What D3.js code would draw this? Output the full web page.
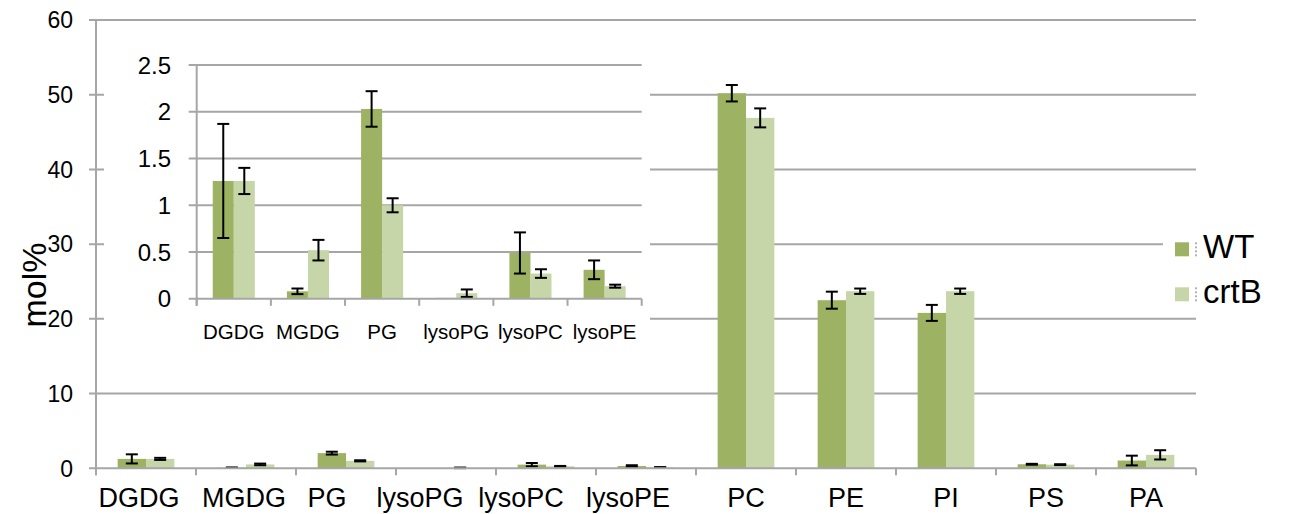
<!DOCTYPE html>
<html>
<head>
<meta charset="utf-8">
<script src="https://cdn.jsdelivr.net/npm/d3@7"></script>
<style>
  body { margin: 0; background: #fff; }
  text { font-family: "Liberation Sans", Arial, sans-serif; fill: #000; }
</style>
</head>
<body>
<svg id="chart" width="1296" height="514"></svg>
<script>
// Lipid classes (mol%), wild type vs crtB line
const categories = ["DGDG", "MGDG", "PG", "lysoPG", "lysoPC", "lysoPE", "PC", "PE", "PI", "PS", "PA"];
const insetCategories = ["DGDG", "MGDG", "PG", "lysoPG", "lysoPC", "lysoPE"];
const seriesNames = ["WT", "crtB"];
const wtValues   = [1.26, 0.08, 2.03, 0.01, 0.49, 0.31, 50.2, 22.5, 20.8, 0.54, 1.04];
const wtErrors   = [0.61, 0.03, 0.19, 0.00, 0.22, 0.10, 1.10, 1.14, 1.07, 0.06, 0.65];
const crtbValues = [1.26, 0.52, 1.00, 0.06, 0.27, 0.135, 46.9, 23.7, 23.7, 0.49, 1.80];
const crtbErrors = [0.14, 0.11, 0.075, 0.04, 0.046, 0.016, 1.27, 0.36, 0.36, 0.06, 0.62];
const mainTicks  = [0, 10, 20, 30, 40, 50, 60];
const insetTicks = [0, 0.5, 1, 1.5, 2, 2.5];

// horizontal nudges for the hand-placed labels of the small lipid classes
const mainLabelNudge = [-7, -2, -19, -26, -25, -18, 0, 0, 0, 0, 0];

const colors = { WT: "#9db262", crtB: "#c6d6a8" };
const gridColor = "#a6a6a6";

const rows = categories.map((c, i) => ({
  cat: c,
  vals: [
    { s: "WT", v: wtValues[i], e: wtErrors[i] },
    { s: "crtB", v: crtbValues[i], e: crtbErrors[i] }
  ]
}));

const svg = d3.select("#chart");

// ---------- main chart ----------
const M = { left: 96, right: 1196, top: 20, bottom: 468.3 };
const x = d3.scaleBand().domain(categories).range([M.left, M.right])
  .paddingInner(0.433).paddingOuter(0.2165);
const xs = d3.scaleBand().domain(seriesNames).range([0, x.bandwidth()]);
const y = d3.scaleLinear().domain([0, 60]).range([M.bottom, M.top]);

// gridlines (extending left past the axis as cross ticks)
svg.append("g").selectAll("line").data(mainTicks.filter(t => t > 0)).join("line")
  .attr("x1", M.left - 7).attr("x2", M.right)
  .attr("y1", d => y(d)).attr("y2", d => y(d))
  .attr("stroke", gridColor).attr("stroke-width", 2);

function drawBars(g, data, xScale, subScale, yScale, capW) {
  const grp = g.append("g").selectAll("g").data(data).join("g")
    .attr("transform", d => `translate(${xScale(d.cat)},0)`);
  grp.selectAll("rect").data(d => d.vals).join("rect")
    .attr("x", d => subScale(d.s)).attr("width", subScale.bandwidth())
    .attr("y", d => yScale(d.v)).attr("height", d => yScale(0) - yScale(d.v))
    .attr("fill", d => colors[d.s]);
  const eb = grp.selectAll("g.err").data(d => d.vals.filter(v => v.e > 0)).join("g")
    .attr("class", "err")
    .attr("stroke", "#000").attr("stroke-width", 2);
  const cx = d => subScale(d.s) + subScale.bandwidth() / 2;
  eb.append("line").attr("x1", cx).attr("x2", cx)
    .attr("y1", d => yScale(d.v + d.e)).attr("y2", d => yScale(Math.max(0, d.v - d.e)));
  eb.append("line").attr("x1", d => cx(d) - capW / 2).attr("x2", d => cx(d) + capW / 2)
    .attr("y1", d => yScale(d.v + d.e)).attr("y2", d => yScale(d.v + d.e));
  eb.append("line").attr("x1", d => cx(d) - capW / 2).attr("x2", d => cx(d) + capW / 2)
    .attr("y1", d => yScale(Math.max(0, d.v - d.e))).attr("y2", d => yScale(Math.max(0, d.v - d.e)));
}

drawBars(svg, rows, x, xs, y, 12);

// y axis
svg.append("line").attr("x1", M.left).attr("x2", M.left)
  .attr("y1", M.top).attr("y2", M.bottom + 7)
  .attr("stroke", gridColor).attr("stroke-width", 2);
// x axis with category boundary ticks
svg.append("line").attr("x1", M.left - 7).attr("x2", M.right)
  .attr("y1", M.bottom).attr("y2", M.bottom)
  .attr("stroke", gridColor).attr("stroke-width", 2);
const bounds = d3.range(categories.length + 1).map(i => M.left + i * x.step());
svg.append("g").selectAll("line").data(bounds).join("line")
  .attr("x1", d => d).attr("x2", d => d)
  .attr("y1", M.bottom).attr("y2", M.bottom + 7)
  .attr("stroke", gridColor).attr("stroke-width", 2);

svg.append("g").selectAll("text").data(mainTicks).join("text")
  .attr("x", 73).attr("y", d => y(d)).attr("dy", "0.36em")
  .attr("text-anchor", "end").attr("font-size", 23)
  .text(d => d);

svg.append("g").selectAll("text").data(categories).join("text")
  .attr("x", (d, i) => x(d) + x.bandwidth() / 2 + mainLabelNudge[i])
  .attr("y", 507).attr("text-anchor", "middle").attr("font-size", 27)
  .text(d => d);

svg.append("text")
  .attr("transform", "translate(46,285) rotate(-90)")
  .attr("text-anchor", "middle").attr("font-size", 34)
  .text("mol%");

// ---------- inset (minor lipid classes) ----------
svg.append("rect").attr("x", 104).attr("y", 28).attr("width", 546).attr("height", 327)
  .attr("fill", "#fff");

const I = { left: 196.7, right: 641.7, top: 65, bottom: 298.8 };
const ix = d3.scaleBand().domain(insetCategories).range([I.left, I.right])
  .paddingInner(0.433).paddingOuter(0.2165);
const ixs = d3.scaleBand().domain(seriesNames).range([0, ix.bandwidth()]);
const iy = d3.scaleLinear().domain([0, 2.5]).range([I.bottom, I.top]);

svg.append("g").selectAll("line").data(insetTicks.filter(t => t > 0)).join("line")
  .attr("x1", I.left - 8).attr("x2", I.right)
  .attr("y1", d => iy(d)).attr("y2", d => iy(d))
  .attr("stroke", gridColor).attr("stroke-width", 2);

drawBars(svg, rows.filter(r => insetCategories.includes(r.cat)), ix, ixs, iy, 12);

svg.append("line").attr("x1", I.left).attr("x2", I.left)
  .attr("y1", I.top).attr("y2", I.bottom + 7)
  .attr("stroke", gridColor).attr("stroke-width", 2);
svg.append("line").attr("x1", I.left - 8).attr("x2", I.right)
  .attr("y1", I.bottom).attr("y2", I.bottom)
  .attr("stroke", gridColor).attr("stroke-width", 2);
const ibounds = d3.range(insetCategories.length + 1).map(i => I.left + i * ix.step());
svg.append("g").selectAll("line").data(ibounds).join("line")
  .attr("x1", d => d).attr("x2", d => d)
  .attr("y1", I.bottom).attr("y2", I.bottom + 7)
  .attr("stroke", gridColor).attr("stroke-width", 2);

svg.append("g").selectAll("text").data(insetTicks).join("text")
  .attr("x", 171).attr("y", d => iy(d)).attr("dy", "0.36em")
  .attr("text-anchor", "end").attr("font-size", 24)
  .text(d => d);

svg.append("g").selectAll("text").data(insetCategories).join("text")
  .attr("x", d => ix(d) + ix.bandwidth() / 2)
  .attr("y", 339.3).attr("text-anchor", "middle").attr("font-size", 20.5)
  .text(d => d);

// ---------- legend ----------
svg.append("rect").attr("x", 1163).attr("y", 228).attr("width", 133).attr("height", 84)
  .attr("fill", "#fff");
const legend = svg.append("g").selectAll("g").data(seriesNames).join("g")
  .attr("transform", (d, i) => `translate(1175,${242.3 + i * 45})`);
legend.append("rect").attr("width", 14).attr("height", 14).attr("fill", d => colors[d]);
legend.append("line").attr("x1", 21).attr("x2", 21).attr("y1", 0).attr("y2", 14)
  .attr("stroke", "#666").attr("stroke-width", 1).attr("stroke-dasharray", "2,2");
legend.append("text").attr("x", 28).attr("y", 16).attr("font-size", 33).text(d => d);
</script>
</body>
</html>
